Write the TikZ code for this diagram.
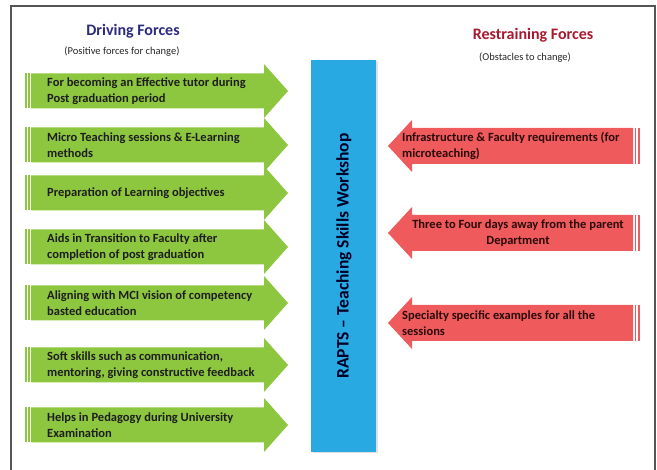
\documentclass[tikz,border=0pt]{standalone}
\usepackage{fontspec}
\setmainfont{Carlito}
\definecolor{gfill}{HTML}{8DC63F}
\definecolor{rfill}{HTML}{EF5A5C}
\definecolor{bfill}{HTML}{29A9E1}
\definecolor{navy}{HTML}{2B2A7F}
\definecolor{dred}{HTML}{A6192E}
\definecolor{gtext}{HTML}{1E1E1E}
\definecolor{rtext}{HTML}{2A0A0A}
\definecolor{frame}{HTML}{555555}
\tikzset{
  gtxt/.style={anchor=west, align=left, text=gtext, font=\fontsize{12.5}{16}\selectfont\bfseries, inner sep=0pt},
  rtxt/.style={anchor=west, align=left, text=rtext, font=\fontsize{12.5}{16}\selectfont\bfseries, inner sep=0pt},
  rtxtc/.style={align=center, text=rtext, font=\fontsize{12.5}{16}\selectfont\bfseries, inner sep=0pt},
  ttl/.style={font=\fontsize{16}{18}\selectfont\bfseries, inner sep=0pt},
  sub/.style={font=\fontsize{10.5}{12}\selectfont, text=black!85, inner sep=0pt}
}
\begin{document}
\begin{tikzpicture}[x=1pt,y=-1pt]
\useasboundingbox (0,0) rectangle (657,470);
\draw[frame, line width=1.2pt] (11,475) -- (11,6) -- (655,6) -- (655,475);
% titles
\node[ttl, text=navy] (dft) at (133,31) {Driving Forces};
\node[sub] (dfs) at (122,52) {(Positive forces for change)};
\node[ttl, text=dred] (rft) at (533,35) {Restraining Forces};
\node[sub] (rfs) at (525,58) {(Obstacles to change)};
% central bar
\fill[black!12] (312.5,61.5) rectangle (377.5,453.5);
\node[fill=bfill, minimum width=65pt, minimum height=392pt, inner sep=0pt] (bar) at (343.5,256) {};
\node[rotate=90, font=\fontsize{17.5}{19}\selectfont\bfseries, text=black!85!blue] (bartxt) at (344,256) {RAPTS -- Teaching Skills Workshop};
% green arrows
\foreach \c in {91,145,193,247,303,365,425}{
  \fill[gfill] (31,\c-17.5) -- (264,\c-17.5) -- (264,\c-27) -- (288,\c) -- (264,\c+27) -- (264,\c+17.5) -- (31,\c+17.5) -- cycle;
  \fill[gfill] (25,\c-17.5) rectangle (27,\c+17.5);
  \fill[gfill] (28.3,\c-17.5) rectangle (29.7,\c+17.5);
}
\node[gtxt] (g1) at (47,91) {For becoming an Effective tutor during\\Post graduation period};
\node[gtxt] (g2) at (47,145) {Micro Teaching sessions \& E-Learning\\methods};
\node[gtxt] (g3) at (47,193) {Preparation of Learning objectives};
\node[gtxt] (g4) at (47,247) {Aids in Transition to Faculty after\\completion of post graduation};
\node[gtxt] (g5) at (47,303) {Aligning with MCI vision of competency\\basted education};
\node[gtxt] (g6) at (47,365) {Soft skills such as communication,\\mentoring, giving constructive feedback};
\node[gtxt] (g7) at (47,425) {Helps in Pedagogy during University\\Examination};
% red arrows
\foreach \c in {146,233,323}{
  \fill[rfill] (412,\c-18) -- (633,\c-18) -- (633,\c+18) -- (412,\c+18) -- (412,\c+26) -- (388,\c) -- (412,\c-26) -- cycle;
  \fill[rfill] (634.5,\c-18) rectangle (636,\c+18);
  \fill[rfill] (637.5,\c-18) rectangle (639.5,\c+18);
}
\node[rtxt] (r1) at (402,146) {Infrastructure \& Faculty requirements (for\\microteaching)};
\node[rtxtc] (r2) at (518,233) {Three to Four days away from the parent\\Department};
\node[rtxt] (r3) at (402,323) {Specialty specific examples for all the\\sessions};
\end{tikzpicture}
\end{document}
